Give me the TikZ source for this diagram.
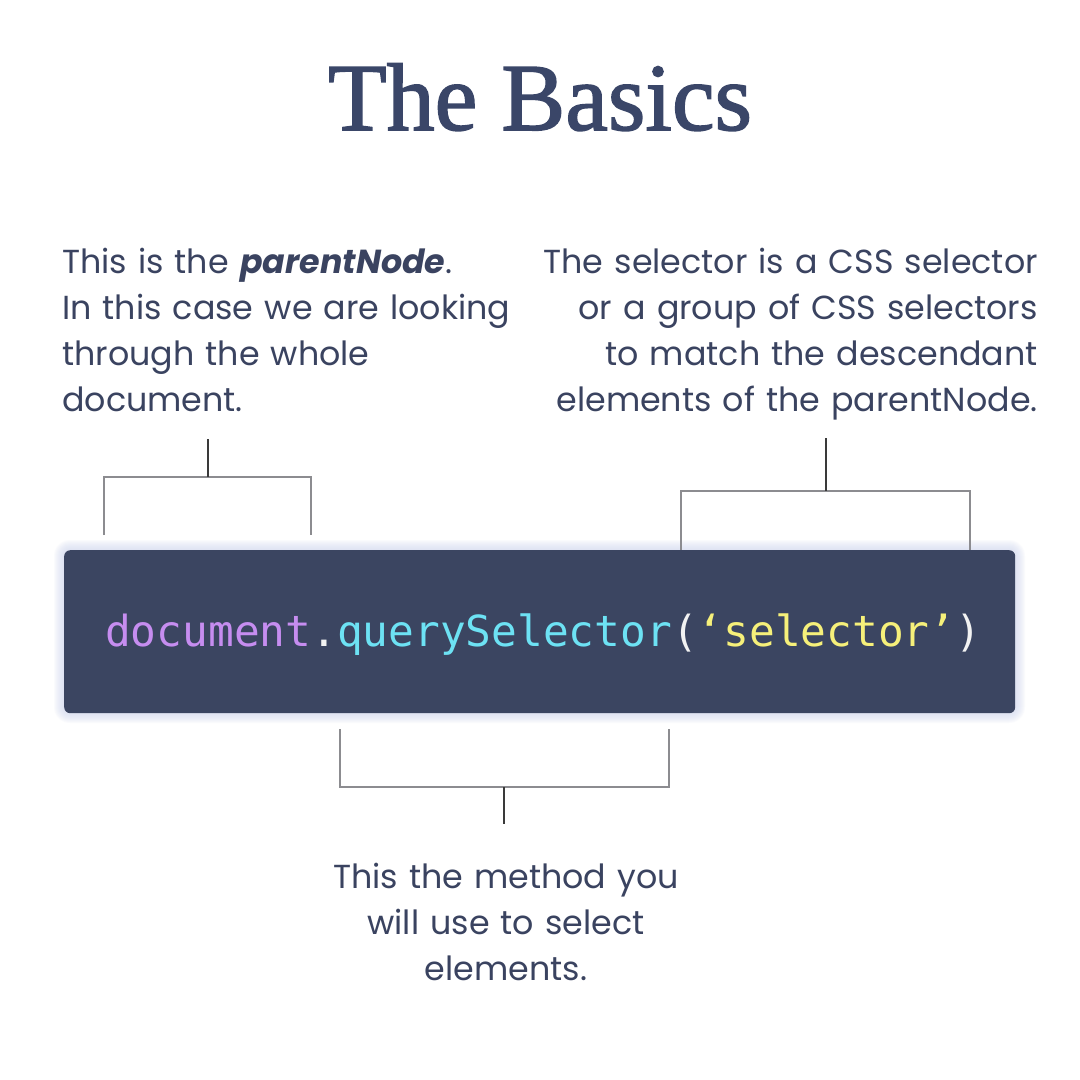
\documentclass[tikz,border=0pt]{standalone}
\usepackage{fontspec}
\newfontfamily\bodyfont{Poppins}
\newfontfamily\titlefont[FakeBold=1.6]{Liberation Serif}
\newfontfamily\codefont{DejaVu Sans Mono}
\definecolor{ink}{HTML}{3A4360}
\definecolor{titleink}{HTML}{3A4668}
\definecolor{boxcol}{HTML}{3B4561}
\definecolor{glowcol}{HTML}{D5DCF2}
\definecolor{legcol}{HTML}{8C8C90}
\definecolor{stemcol}{HTML}{3A3A3A}
\definecolor{cpurple}{HTML}{C68DF0}
\definecolor{ccyan}{HTML}{6DE2F4}
\definecolor{cyellow}{HTML}{F6F07A}
\definecolor{cwhite}{HTML}{F2F2F2}
\tikzset{
  bodytext/.style={inner sep=0pt, text=ink, font=\bodyfont\fontsize{33.3}{46}\selectfont},
  leg/.style={draw=legcol, line width=1.5pt},
  stem/.style={draw=stemcol, line width=1.2pt},
  codebox/.style={fill=boxcol, rounded corners=6pt, inner sep=0pt, anchor=north west,
    minimum width=951pt, minimum height=163pt}
}
\begin{document}
\begin{tikzpicture}[x=1pt,y=-1pt]
\useasboundingbox (0,0) rectangle (1080,1080);
\fill[white] (0,0) rectangle (1080,1080);

% title
\node[anchor=base, inner sep=0pt, text=titleink,
      font=\titlefont\fontsize{96}{96}\selectfont] (title) at (540,130) {The Basics};

% explanations
\node[bodytext, anchor=base west, text width=480pt, align=left] (parent) at (62,273)
  {This is the {\bfseries\itshape parentNode}.\\In this case we are looking\\through the whole\\document.};
\node[bodytext, anchor=base east, text width=560pt, align=right] (selector) at (1038,273)
  {The selector is a CSS selector\\or a group of CSS selectors\\to match the descendant\\elements of the parentNode.};
\node[bodytext, anchor=base, text width=420pt, align=center] (method) at (506,888)
  {This the method you\\will use to select\\elements.};

% glow + code box
\foreach \i in {1,...,10}{
  \fill[glowcol, opacity=0.10, rounded corners={6pt+\i pt}] (64-\i,550-\i) rectangle (1015+\i,713+\i);
}
\node[codebox] (box) at (64,550) {};
\node[anchor=base west, inner sep=0pt, font=\codefont\fontsize{42.8}{50}\selectfont] (code) at (105,646)
  {\textcolor{cpurple}{document}\textcolor{cwhite}{.}\textcolor{ccyan}{querySelector}\textcolor{cwhite}{(}\textcolor{cyellow}{‘selector’}\textcolor{cwhite}{)}};

% bracket coordinates
\coordinate (pS) at (208,439);  \coordinate (pM) at (208,477);
\coordinate (pL) at (104,535);  \coordinate (pR) at (311,535);
\coordinate (sS) at (826,438);  \coordinate (sM) at (826,491);
\coordinate (sL) at (681,550);  \coordinate (sR) at (970,550);
\coordinate (mS) at (504,824);  \coordinate (mM) at (504,787);
\coordinate (mL) at (340,729);  \coordinate (mR) at (669,729);

% brackets
\draw[leg] (pL) |- (pM) -| (pR);
\draw[stem] (pS) -- (pM);
\draw[leg] (sL) |- (sM) -| (sR);
\draw[stem] (sS) -- (sM);
\draw[leg] (mL) |- (mM) -| (mR);
\draw[stem] (mM) -- (mS);
\end{tikzpicture}
\end{document}
